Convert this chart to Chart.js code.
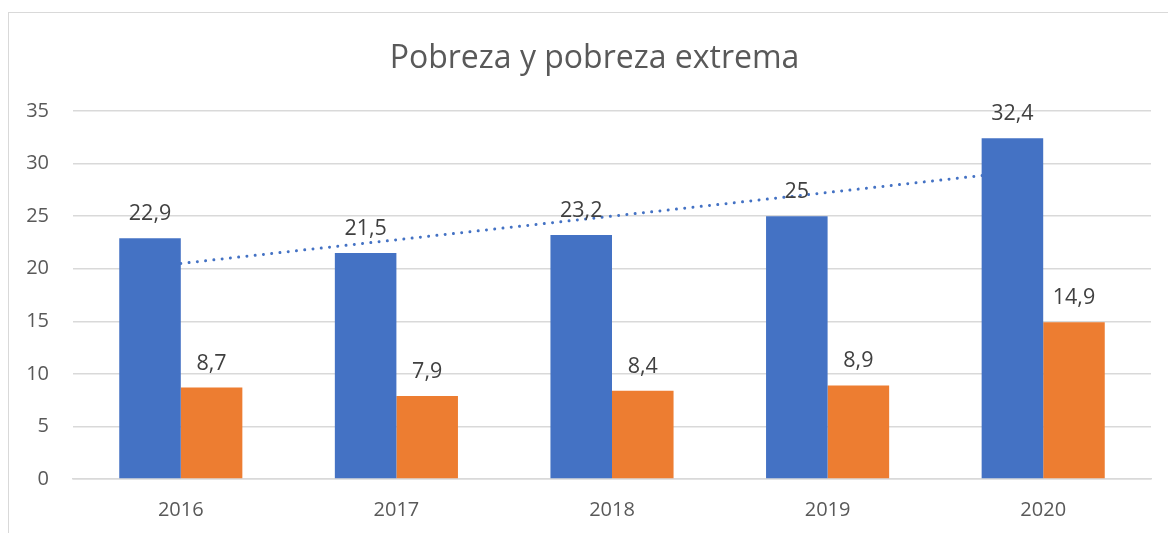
<!DOCTYPE html>
<html>
<head>
<meta charset="utf-8">
<script src="https://cdn.jsdelivr.net/npm/chart.js@4.4.0/dist/chart.umd.min.js"></script>
<style>
  html, body { margin: 0; padding: 0; background: #fff; overflow: hidden; }
  #wrap { position: relative; width: 1168px; height: 533px; overflow: hidden; }
  #frame { position: absolute; left: 8px; top: 12px; width: 1160px; height: 521px; border-top: 1px solid #d9d9d9; border-left: 1px solid #d9d9d9; box-sizing: border-box; }
  canvas { position: absolute; left: 0; top: 0; }
</style>
</head>
<body>
<div id="wrap">
  <div id="frame"></div>
  <canvas id="c" width="1168" height="533"></canvas>
</div>
<script>
const categories = ['2016', '2017', '2018', '2019', '2020'];
const pobreza = [22.9, 21.5, 23.2, 25, 32.4];
const pobrezaExtrema = [8.7, 7.9, 8.4, 8.9, 14.9];
const yTicks = [0, 5, 10, 15, 20, 25, 30, 35];
const titleText = 'Pobreza y pobreza extrema';

// Linear trend (least squares) of the first series, as Excel's trendline does
function linearTrend(vals) {
  const n = vals.length;
  const mx = (n - 1) / 2;
  const my = vals.reduce((a, b) => a + b, 0) / n;
  let num = 0, den = 0;
  vals.forEach((v, i) => { num += (i - mx) * (v - my); den += (i - mx) * (i - mx); });
  const slope = num / den;
  return vals.map((v, i) => my + slope * (i - mx));
}
const trend = linearTrend(pobreza);

const FONT = "'Open Sans', 'Noto Sans', sans-serif";

const titlePlugin = {
  id: 'customTitle',
  afterDraw(chart) {
    const ctx = chart.ctx;
    ctx.save();
    ctx.font = '32px ' + FONT;
    ctx.fillStyle = '#595959';
    ctx.textAlign = 'center';
    ctx.textBaseline = 'alphabetic';
    ctx.fillText(titleText, 594.5, 68);
    ctx.restore();
  }
};

const dataLabels = {
  id: 'dataLabels',
  afterDatasetsDraw(chart) {
    const ctx = chart.ctx;
    ctx.save();
    ctx.font = '21.5px ' + FONT;
    ctx.fillStyle = '#404040';
    ctx.textAlign = 'center';
    ctx.textBaseline = 'alphabetic';
    [0, 1].forEach(di => {
      const meta = chart.getDatasetMeta(di);
      meta.data.forEach((bar, i) => {
        const v = chart.data.datasets[di].data[i];
        const txt = String(v).replace('.', ',');
        ctx.fillText(txt, bar.x, bar.y - 18);
      });
    });
    ctx.restore();
  }
};

new Chart(document.getElementById('c'), {
  data: {
    labels: categories,
    datasets: [
      { type: 'bar', label: 'Pobreza', data: pobreza, backgroundColor: '#4472C4', order: 1,
        barPercentage: 1, categoryPercentage: 0.571 },
      { type: 'bar', label: 'Pobreza extrema', data: pobrezaExtrema, backgroundColor: '#ED7D31', order: 1,
        barPercentage: 1, categoryPercentage: 0.571 },
      { type: 'line', label: 'Lineal (Pobreza)', data: trend, borderColor: '#4472C4', borderWidth: 3,
        borderDash: [0.01, 8.3], borderCapStyle: 'round', pointRadius: 0, fill: false, tension: 0, order: 2 }
    ]
  },
  options: {
    responsive: false,
    animation: false,
    devicePixelRatio: 1,
    layout: { padding: { left: 0, right: 17, top: 111, bottom: 0 } },
    plugins: {
      legend: { display: false },
      tooltip: { enabled: false },
      title: { display: false }
    },
    scales: {
      x: {
        type: 'category',
        offset: true,
        grid: { display: false, drawTicks: false },
        border: { display: true, color: '#d9d9d9', width: 1.5 },
        ticks: { color: '#595959', font: { family: FONT, size: 20 }, padding: 19 },
        afterFit(s) { s.height = 54; }
      },
      y: {
        min: 0, max: 35,
        afterBuildTicks(s) { s.ticks = yTicks.map(v => ({ value: v })); },
        grid: { color: '#d9d9d9', lineWidth: 1.5, drawTicks: false },
        border: { display: false },
        ticks: { color: '#595959', font: { family: FONT, size: 20 }, padding: 24 },
        afterFit(s) { s.width = 73; }
      }
    }
  },
  plugins: [dataLabels, titlePlugin]
});
</script>
</body>
</html>
